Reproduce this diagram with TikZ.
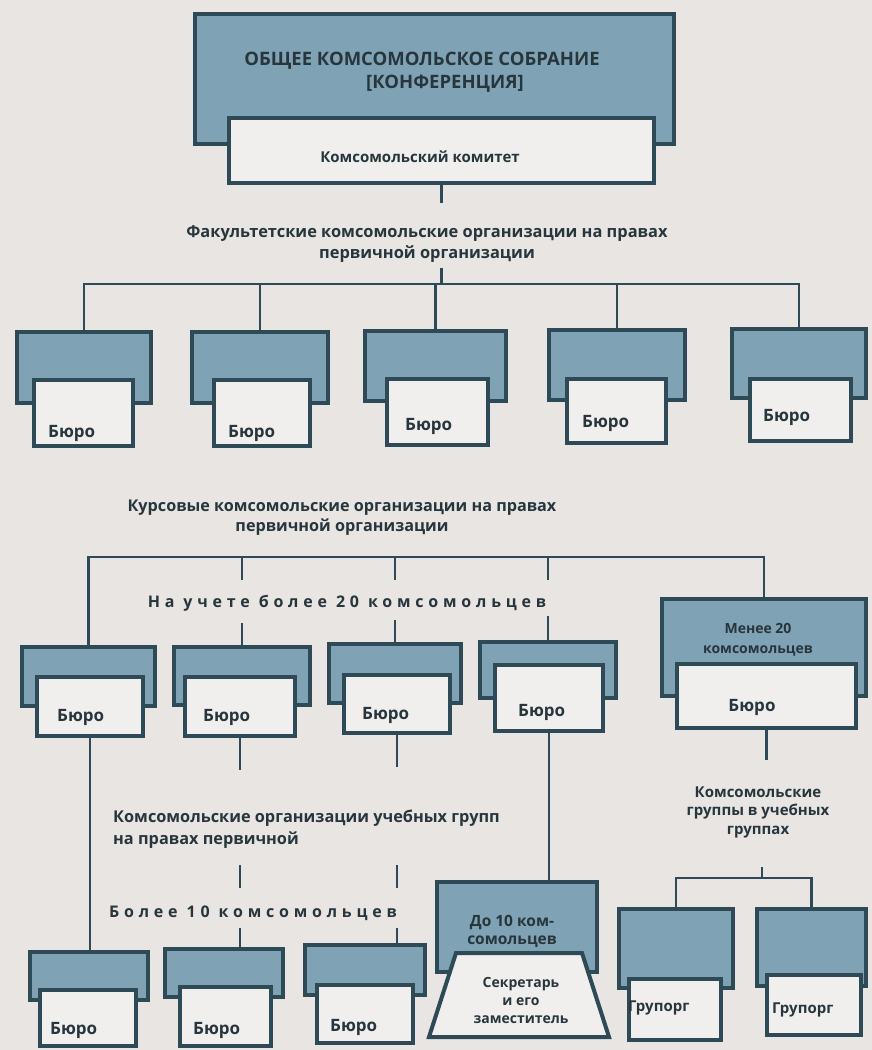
\documentclass[tikz,border=0pt]{standalone}
\usepackage{fontspec}
\setmainfont{Open Sans}
\definecolor{paper}{HTML}{E8E5E2}
\definecolor{slateblue}{HTML}{7FA2B4}
\definecolor{ink}{HTML}{2E4A56}
\definecolor{card}{HTML}{F1EFED}
\definecolor{txt}{HTML}{27363C}
\tikzset{
  outerbox/.style={rectangle, draw=ink, fill=slateblue, line width=4.5pt, inner sep=0pt, outer sep=0pt},
  innerbox/.style={rectangle, draw=ink, fill=card, line width=4pt, inner sep=0pt, outer sep=0pt},
  conn/.style={draw=ink, line width=2.4pt},
  lbl/.style={text=txt, inner sep=0pt, font=\bfseries\fontsize{17}{19}\selectfont},
  lblsm/.style={text=txt, inner sep=0pt, font=\bfseries\fontsize{15}{18}\selectfont},
  spaced/.style={text=txt, inner sep=0pt, font=\bfseries\fontsize{16}{18}\selectfont\addfontfeatures{LetterSpace=30}},
}
\newcommand\rbox[6]{\node[#2, anchor=north west, minimum width={(#5)-(#3)}, minimum height={(#6)-(#4)}] (#1) at (#3,#4) {};}
\begin{document}
\begin{tikzpicture}[x=1pt,y=-1pt]
\fill[paper] (0,0) rectangle (872,1050);
\useasboundingbox (0,0) rectangle (872,1050);

% ---- top
\rbox{asm}{outerbox}{195}{14}{674}{144}
\node[lbl, align=center, font=\bfseries\fontsize{18.5}{23}\selectfont] (asmt) at (422,72) {ОБЩЕЕ КОМСОМОЛЬСКОЕ СОБРАНИЕ\\\hspace*{46pt}[КОНФЕРЕНЦИЯ]};
\rbox{com}{innerbox}{229}{118}{654}{183}
\node[lbl, font=\bfseries\fontsize{15}{17}\selectfont] (comt) at (420,157) {Комсомольский комитет};

\node[lbl, align=center, font=\bfseries\fontsize{16.4}{21}\selectfont] (fac) at (427,244) {Факультетские комсомольские организации на правах\\первичной организации};
\coordinate (bus1) at (441.5,284);
\draw[conn] (com.south) -- ++(0,20);
\draw[conn] (bus1) -- ++(0,-16);

% ---- row 1
\rbox{f1o}{outerbox}{17}{332}{151}{403}
\rbox{f2o}{outerbox}{192}{332}{328}{403}
\rbox{f3o}{outerbox}{365}{331}{506}{401}
\rbox{f4o}{outerbox}{549}{330}{685}{400}
\rbox{f5o}{outerbox}{732}{329}{866}{398}
\rbox{f1i}{innerbox}{34}{380}{133}{446}
\rbox{f2i}{innerbox}{214}{380}{310}{446}
\rbox{f3i}{innerbox}{387}{379}{488}{445}
\rbox{f4i}{innerbox}{567}{379}{666}{443}
\rbox{f5i}{innerbox}{750}{379}{851}{441}
\node[lbl, anchor=west] (f1t) at (48,433) {Бюро};
\node[lbl, anchor=west] (f2t) at (228,433) {Бюро};
\node[lbl, anchor=west] (f3t) at (405,426) {Бюро};
\node[lbl, anchor=west] (f4t) at (582,423) {Бюро};
\node[lbl, anchor=west] (f5t) at (763,417) {Бюро};
\draw[conn] (f1o.north) |- (bus1) -| (f5o.north);
\draw[conn] (f2o.north) -- (f2o.north |- bus1);
\draw[conn] (f3o.north) -- (f3o.north |- bus1);
\draw[conn] (f4o.north) -- (f4o.north |- bus1);

% ---- course level
\node[lbl, align=center, font=\bfseries\fontsize{16.2}{20}\selectfont] (kurs) at (342,518) {Курсовые комсомольские организации на правах\\первичной организации};
\coordinate (bus2) at (400,557);
\node[spaced] (more20) at (347,603) {На учете более 20 комсомольцев};

\rbox{r1o}{outerbox}{22}{647}{155}{706}
\rbox{r2o}{outerbox}{174}{647}{310}{705}
\rbox{r3o}{outerbox}{329}{644}{461}{703}
\rbox{r4o}{outerbox}{480}{642}{616}{698}
\rbox{men}{outerbox}{662}{599}{866}{696}
\node[lblsm, align=center, font=\bfseries\fontsize{14}{20}\selectfont] (ment) at (758,640) {Менее 20\\комсомольцев};
\rbox{r1i}{innerbox}{37}{677}{143}{736}
\rbox{r2i}{innerbox}{185}{677}{295}{736}
\rbox{r3i}{innerbox}{344}{675}{450}{733}
\rbox{r4i}{innerbox}{495}{665}{603}{731}
\rbox{meni}{innerbox}{677}{664}{856}{728}
\node[lbl, anchor=west] (r1t) at (57,717) {Бюро};
\node[lbl, anchor=west] (r2t) at (203,717) {Бюро};
\node[lbl, anchor=west] (r3t) at (362,715) {Бюро};
\node[lbl, anchor=west] (r4t) at (518,712) {Бюро};
\node[lbl] (ment2) at (752,707) {Бюро};

\draw[conn] (r1o.north) |- (bus2) -| (men.north);
\draw[conn] (r2o.north |- bus2) -- ++(0,23);
\draw[conn] (r3o.north |- bus2) -- ++(0,23);
\draw[conn] (r4o.north |- bus2) -- ++(0,23);
\draw[conn] (r2o.north) -- ++(0,-24);
\draw[conn] (r3o.north) -- ++(0,-24);
\draw[conn] (r4o.north) -- ++(0,-26);

% ---- group level
\node[lbl, align=left, anchor=north west, font=\bfseries\fontsize{16.3}{22}\selectfont] (grpt) at (113,810) {Комсомольские организации учебных групп\\на правах первичной};
\node[spaced] (more10) at (253,913) {Более 10 комсомольцев};
\coordinate (g1) at (0,865);
\coordinate (g2) at (0,928);

\rbox{b1o}{outerbox}{30}{952}{148}{1000}
\rbox{b2o}{outerbox}{165}{949}{283}{997}
\rbox{b3o}{outerbox}{305}{945}{425}{995}
\rbox{b1i}{innerbox}{40}{990}{136}{1046}
\rbox{b2i}{innerbox}{180}{987}{271}{1046}
\rbox{b3i}{innerbox}{317}{985}{413}{1043}
\node[lbl, anchor=west] (b1t) at (50,1030) {Бюро};
\node[lbl, anchor=west] (b2t) at (193,1030) {Бюро};
\node[lbl, anchor=west] (b3t) at (330,1027) {Бюро};

\draw[conn] (r1i.south) -- (r1i.south |- b1o.north);
\draw[conn] (r2i.south) -- ++(0,34);
\draw[conn] (r2i.south |- g1) -- ++(0,23);
\draw[conn] (r2i.south |- g2) -- (r2i.south |- b2o.north);
\draw[conn] (r3i.south) -- ++(0,34);
\draw[conn] (r3i.south |- g1) -- ++(0,23);
\draw[conn] (r3i.south |- g2) -- (r3i.south |- b3o.north);

% ---- up to 10
\rbox{do}{outerbox}{437}{882}{597}{972}
\node[lblsm, align=center, font=\bfseries\fontsize{15.5}{18}\selectfont] (dot) at (512,931) {До 10 ком-\\сомольцев};
\draw[draw=ink, fill=card, line width=4pt, line join=miter] (429,1037) coordinate (secbl) -- (456,953) coordinate (sectl) -- (582,953) coordinate (sectr) -- (609,1037) coordinate (secbr) -- cycle;
\node[lblsm, align=center, font=\bfseries\fontsize{14}{18}\selectfont] (sect) at (521,1000) {Секретарь\\и его\\заместитель};
\draw[conn] (r4i.south) -- (r4i.south |- do.north);

% ---- komsomol groups
\draw[conn] (meni.south) -- ++(0,32);
\node[lblsm, align=center, font=\bfseries\fontsize{15}{18.5}\selectfont] (kgr) at (758,812) {Комсомольские\\группы в учебных\\группах};
\coordinate (gbus) at (762,878);
\rbox{g1o}{outerbox}{619}{909}{733}{988}
\rbox{g2o}{outerbox}{757}{909}{866}{986}
\rbox{g1i}{innerbox}{629}{979}{721}{1040}
\rbox{g2i}{innerbox}{767}{975}{861}{1035}
\node[lblsm, anchor=west] (g1t) at (628,1008) {Групорг};
\node[lblsm, anchor=west] (g2t) at (772,1010) {Групорг};
\draw[conn] (gbus) -- ++(0,-11);
\draw[conn] (g1o.north) |- (gbus) -| (g2o.north);
\end{tikzpicture}
\end{document}
